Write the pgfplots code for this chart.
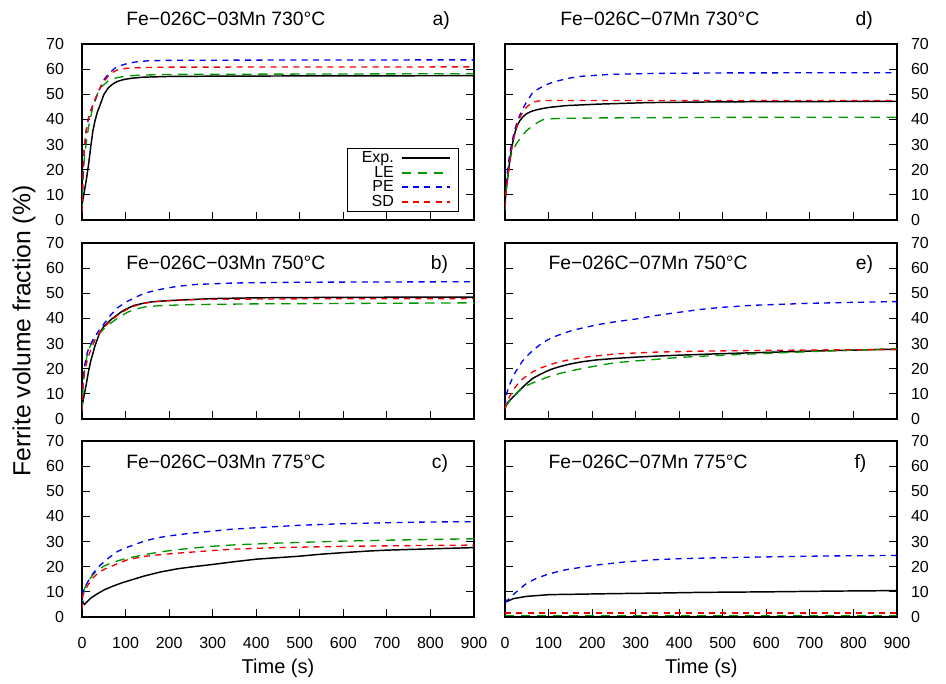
\documentclass[border=0pt]{standalone}
\usepackage{fontspec}
\setmainfont{Liberation Sans}
\usepackage{pgfplots}
\pgfplotsset{compat=1.18}
\definecolor{cLE}{RGB}{0,150,0}
\definecolor{cPE}{RGB}{0,0,245}
\definecolor{cSD}{RGB}{240,0,0}
\pgfplotsset{
  panel/.style={
    scale only axis, width=294pt, height=132pt,
    xmin=0, xmax=900, ymin=0, ymax=70,
    xtick={0,100,...,900}, ytick={0,10,...,70},
    tick align=inside, major tick length=6pt,
    xtick pos=left, ytick pos=both,
    axis line style={line width=0.9pt},
    every tick/.style={black, line width=0.7pt},
    ticklabel style={font=\fontsize{12}{13}\selectfont},
    /pgf/number format/assume math mode=true,
    anchor=south west,
  },
  leftp/.style={yticklabel pos=left, yticklabel style={xshift=-10pt}},
  rightp/.style={yticklabel pos=right, yticklabel style={xshift=7pt}},
  notx/.style={xticklabels={}},
  botx/.style={xticklabel style={yshift=-12pt}},
  exp/.style={draw=black, line width=1.1pt},
  le/.style={draw=cLE, line width=1pt, dash pattern=on 7pt off 5pt},
  pe/.style={draw=cPE, line width=1pt, dash pattern=on 4.5pt off 4pt},
  sd/.style={draw=cSD, line width=1pt, dash pattern=on 4.5pt off 4pt},
}
\begin{document}
\begin{tikzpicture}
\useasboundingbox (0pt,0pt) rectangle (709.5pt,512.25pt);
% ---------------- a)
\begin{axis}[panel, leftp, notx, at={(61.5pt,347.25pt)},
  legend style={at={(0.962,0.045)}, anchor=south east, draw=black, line width=0.9pt,
    font=\fontsize{12}{13}\selectfont, inner xsep=6pt, inner ysep=1pt, row sep=-2pt,
    nodes={inner xsep=5pt, inner ysep=1.5pt}},
  legend cell align=right, legend plot pos=right]
\addlegendimage{legend image code/.code={\draw[draw=black, line width=1.5pt] (0pt,0pt) -- (36pt,0pt);}}
\addlegendimage{legend image code/.code={\draw[draw=cLE, line width=1.5pt, dash pattern=on 7pt off 5pt] (0pt,0pt) -- (36pt,0pt);}}
\addlegendimage{legend image code/.code={\draw[draw=cPE, line width=1.5pt, dash pattern=on 4.5pt off 4pt] (0pt,0pt) -- (36pt,0pt);}}
\addlegendimage{legend image code/.code={\draw[draw=cSD, line width=1.5pt, dash pattern=on 4.5pt off 4pt] (0pt,0pt) -- (36pt,0pt);}}
\addplot[exp, forget plot] coordinates {(0,6) (5,11) (10,16) (15,22) (20,29) (25,35.5) (30,39.5) (35,42.8) (40,45) (50,49.8) (60,52.5) (70,54) (80,55) (90,55.6) (100,56) (115,56.4) (140,56.8) (200,57.1) (300,57.2) (500,57.3) (900,57.4)};
\addplot[le, forget plot] coordinates {(0,3) (2,15) (5,24) (10,31) (15,37) (20,41) (25,45) (35,50) (45,53) (60,55.3) (80,56.6) (100,57.2) (130,57.6) (200,57.9) (400,58) (900,58.2)};
\addplot[pe, forget plot] coordinates {(0,3) (2,17) (5,28) (10,36) (15,40.5) (20,43.5) (30,47.5) (40,52) (50,55.7) (60,58) (75,60.3) (90,61.5) (105,62.3) (125,62.9) (150,63.3) (200,63.5) (400,63.6) (900,63.7)};
\addplot[sd, forget plot] coordinates {(0,3) (2,17) (5,28) (10,36) (15,40.5) (20,43.5) (30,48) (40,52) (50,55) (60,57.2) (70,58.7) (80,59.6) (100,60.3) (130,60.6) (200,60.8) (900,60.9)};
\legend{Exp.,LE,PE,SD}
\end{axis}
% ---------------- b)
\begin{axis}[panel, leftp, notx, at={(61.5pt,198pt)}]
\addplot[exp] coordinates {(0,5) (5,9.5) (10,14) (15,19) (20,23) (30,29.2) (40,34) (50,36.8) (60,38.5) (70,40) (80,41.3) (90,42.6) (100,43.6) (120,45.2) (140,46) (160,46.6) (200,47.1) (250,47.5) (300,47.9) (400,48.2) (600,48.4) (900,48.5)};
\addplot[le] coordinates {(0,3) (3,14) (7,21) (14,27.4) (25,31) (37,33.5) (50,35.8) (67,38.3) (85,40.5) (105,42.5) (125,43.8) (145,44.6) (180,45.1) (250,45.5) (400,45.8) (900,46.2)};
\addplot[pe] coordinates {(0,3) (2,14) (5,20) (10,25) (15,28) (25,31.5) (40,35.5) (52,38.2) (65,41.2) (82,44.3) (100,46.4) (120,48.2) (143,50) (170,51.2) (190,51.9) (220,52.8) (260,53.5) (350,54.1) (500,54.4) (900,54.6)};
\addplot[sd] coordinates {(0,3) (2,12.5) (5,18) (10,22) (15,25) (20,27.5) (30,31.5) (40,34.3) (52,36.7) (65,39) (82,41.3) (100,43.3) (115,44.6) (135,45.7) (160,46.6) (220,47.3) (300,47.6) (500,47.8) (900,47.9)};
\end{axis}
% ---------------- c)
\begin{axis}[panel, leftp, botx, at={(61.5pt,49.5pt)}]
\addplot[exp] coordinates {(0,7) (3,5.5) (6,5) (10,5.8) (20,7.5) (35,9.2) (52,10.9) (70,12.2) (90,13.5) (120,15.1) (143,16.3) (180,17.9) (220,19.2) (260,20.1) (300,20.9) (350,22) (400,23) (450,23.6) (500,24.2) (550,25) (600,25.6) (654,26.2) (700,26.6) (800,27.1) (900,27.6)};
\addplot[le] coordinates {(0,3) (2,8.9) (6,11.5) (14,14.2) (25,16.8) (37,18.8) (50,20.2) (67,21.5) (85,22.5) (105,23.4) (143,24.8) (180,25.9) (220,26.8) (296,28.1) (350,28.7) (450,29.4) (600,30.2) (750,30.7) (900,31.1)};
\addplot[pe] coordinates {(0,4) (2,10.2) (7,12) (14,14.2) (20,16) (29,18.1) (40,20.3) (52,22.1) (65,24) (82,26.1) (100,27.5) (121,28.8) (140,30) (166,31.2) (190,32) (220,32.7) (260,33.5) (296,34.1) (342,34.9) (400,35.5) (500,36.5) (600,37.1) (700,37.5) (800,37.8) (900,37.9)};
\addplot[sd] coordinates {(0,3) (2,8.5) (6,10.5) (14,12.8) (25,15.5) (37,17.5) (50,18.9) (67,20.1) (85,21.5) (105,22.8) (143,24.1) (180,24.8) (220,25.4) (296,26.4) (350,27) (450,27.6) (600,28.1) (750,28.4) (900,28.6)};
\end{axis}
% ---------------- d)
\begin{axis}[panel, rightp, notx, at={(378.75pt,347.25pt)}]
\addplot[exp] coordinates {(0,7) (1.5,9.6) (4,14) (7.6,18.9) (11,23.8) (15,28.2) (19,32) (23,34.8) (28,37.5) (34,39.5) (41,41) (49,42.2) (60,43.2) (72,43.8) (85,44.3) (102,44.8) (140,45.5) (216,46.1) (330,46.7) (500,47) (700,47.1) (900,47.2)};
\addplot[le] coordinates {(0,4) (3,12) (7,18) (11.4,24.2) (17,27.5) (25,30) (34,32.2) (49,35.5) (64,37.5) (75,38.8) (87,39.9) (110,40.3) (125,40.4) (216,40.6) (500,40.8) (900,40.9)};
\addplot[pe] coordinates {(0,5) (1.5,11) (3.8,16.2) (7,21.5) (11.4,26.9) (16,31) (22.7,36.2) (30,40) (38,43.3) (49,46.8) (64,50.8) (80,52.5) (95,53.8) (110,54.8) (125,55.5) (150,56.5) (178,57.2) (239,57.9) (337,58.3) (500,58.5) (900,58.6)};
\addplot[sd] coordinates {(0,5) (2,11) (7.6,18.9) (15,28.2) (22,34) (26.5,36.8) (34,40.8) (42,43.2) (49,44.8) (57,46) (64,46.8) (75,47.3) (87,47.5) (900,47.5)};
\end{axis}
% ---------------- e)
\begin{axis}[panel, rightp, notx, at={(378.75pt,198pt)}]
\addplot[exp] coordinates {(0,4.5) (5,6.3) (11.4,7.5) (20,9) (34,11.5) (50,14.2) (64,16.2) (87,18.3) (105,19.7) (125,20.8) (150,21.9) (178,22.8) (210,23.5) (254,24.1) (300,24.6) (345,25) (402,25.4) (500,26) (600,26.5) (700,27) (800,27.4) (900,27.8)};
\addplot[le] coordinates {(0,4.2) (5,5.8) (11.4,7.3) (19,8.9) (34,11.4) (49,13.2) (64,14.4) (80,15.5) (100,16.8) (125,18.1) (150,19.1) (178,20.1) (215,21.3) (254,22.4) (300,23.1) (345,23.7) (400,24.5) (500,25.4) (600,26.1) (700,26.8) (800,27.4) (900,28)};
\addplot[pe] coordinates {(0,5) (2,8) (4,10.2) (8,12.5) (12,14.2) (20,17.5) (27,19.5) (40,23) (50,25) (64,27.3) (80,29.5) (95,31.2) (110,32.5) (125,33.5) (150,35) (178,36.2) (215,37.6) (254,38.7) (302,39.8) (348,41.2) (402,42.5) (450,43.6) (497,44.4) (566,45.2) (630,45.6) (696,46) (800,46.4) (900,46.7)};
\addplot[sd] coordinates {(0,4) (4,7) (11.4,9.2) (20,11.8) (34,15) (50,17.2) (64,18.8) (80,20.2) (102,21.5) (120,22.5) (140,23.3) (193,24.8) (254,25.9) (345,26.6) (450,27) (600,27.3) (750,27.5) (900,27.6)};
\end{axis}
% ---------------- f)
\begin{axis}[panel, rightp, botx, at={(378.75pt,49.5pt)}]
\addplot[exp] coordinates {(0,7.5) (2,6.5) (5,6.2) (10,6.6) (19,7.3) (49,8.2) (102,8.9) (178,9.1) (250,9.3) (345,9.5) (450,9.8) (600,10) (750,10.3) (900,10.5)};
\addplot[le] coordinates {(0,0.6) (300,0.6) (600,0.6) (900,0.6)};
\addplot[pe] coordinates {(0,5.6) (5,6.5) (10,7.4) (19,8.9) (30,10.6) (49,13.3) (70,15.2) (95,16.8) (120,18) (140,18.8) (180,19.9) (216,20.8) (270,21.8) (345,22.8) (402,23.2) (500,23.6) (631,24) (750,24.3) (900,24.5)};
\addplot[sd] coordinates {(0,1.6) (300,1.6) (600,1.6) (900,1.6)};
\end{axis}
% ---------------- titles and labels
\def\tf{\fontsize{14.5}{16}\selectfont}
\node[anchor=base west, inner sep=0pt, font=\tf] at (94.5pt,492.75pt) {Fe−026C−03Mn 730°C};
\node[anchor=base east, inner sep=0pt, font=\tf] at (337.5pt,492.75pt) {a)};
\node[anchor=base west, inner sep=0pt, font=\tf] at (94.5pt,309.75pt) {Fe−026C−03Mn 750°C};
\node[anchor=base east, inner sep=0pt, font=\tf] at (336.2pt,309.75pt) {b)};
\node[anchor=base west, inner sep=0pt, font=\tf] at (94.5pt,161pt) {Fe−026C−03Mn 775°C};
\node[anchor=base east, inner sep=0pt, font=\tf] at (336.2pt,161pt) {c)};
\node[anchor=base west, inner sep=0pt, font=\tf] at (420pt,492.75pt) {Fe−026C−07Mn 730°C};
\node[anchor=base east, inner sep=0pt, font=\tf] at (654.75pt,492.75pt) {d)};
\node[anchor=base west, inner sep=0pt, font=\tf] at (411.25pt,309.75pt) {Fe−026C−07Mn 750°C};
\node[anchor=base east, inner sep=0pt, font=\tf] at (655pt,309.75pt) {e)};
\node[anchor=base west, inner sep=0pt, font=\tf] at (411.25pt,161pt) {Fe−026C−07Mn 775°C};
\node[anchor=base east, inner sep=0pt, font=\tf] at (650pt,161pt) {f)};
\node[anchor=base, inner sep=0pt, font=\fontsize{15}{17}\selectfont] at (208.5pt,7.3pt) {Time (s)};
\node[anchor=base, inner sep=0pt, font=\fontsize{15}{17}\selectfont] at (526pt,7.3pt) {Time (s)};
\node[rotate=90, inner sep=0pt, font=\fontsize{18.5}{20}\selectfont] at (18pt,264pt) {Ferrite volume fraction (\%)};
\end{tikzpicture}
\end{document}
